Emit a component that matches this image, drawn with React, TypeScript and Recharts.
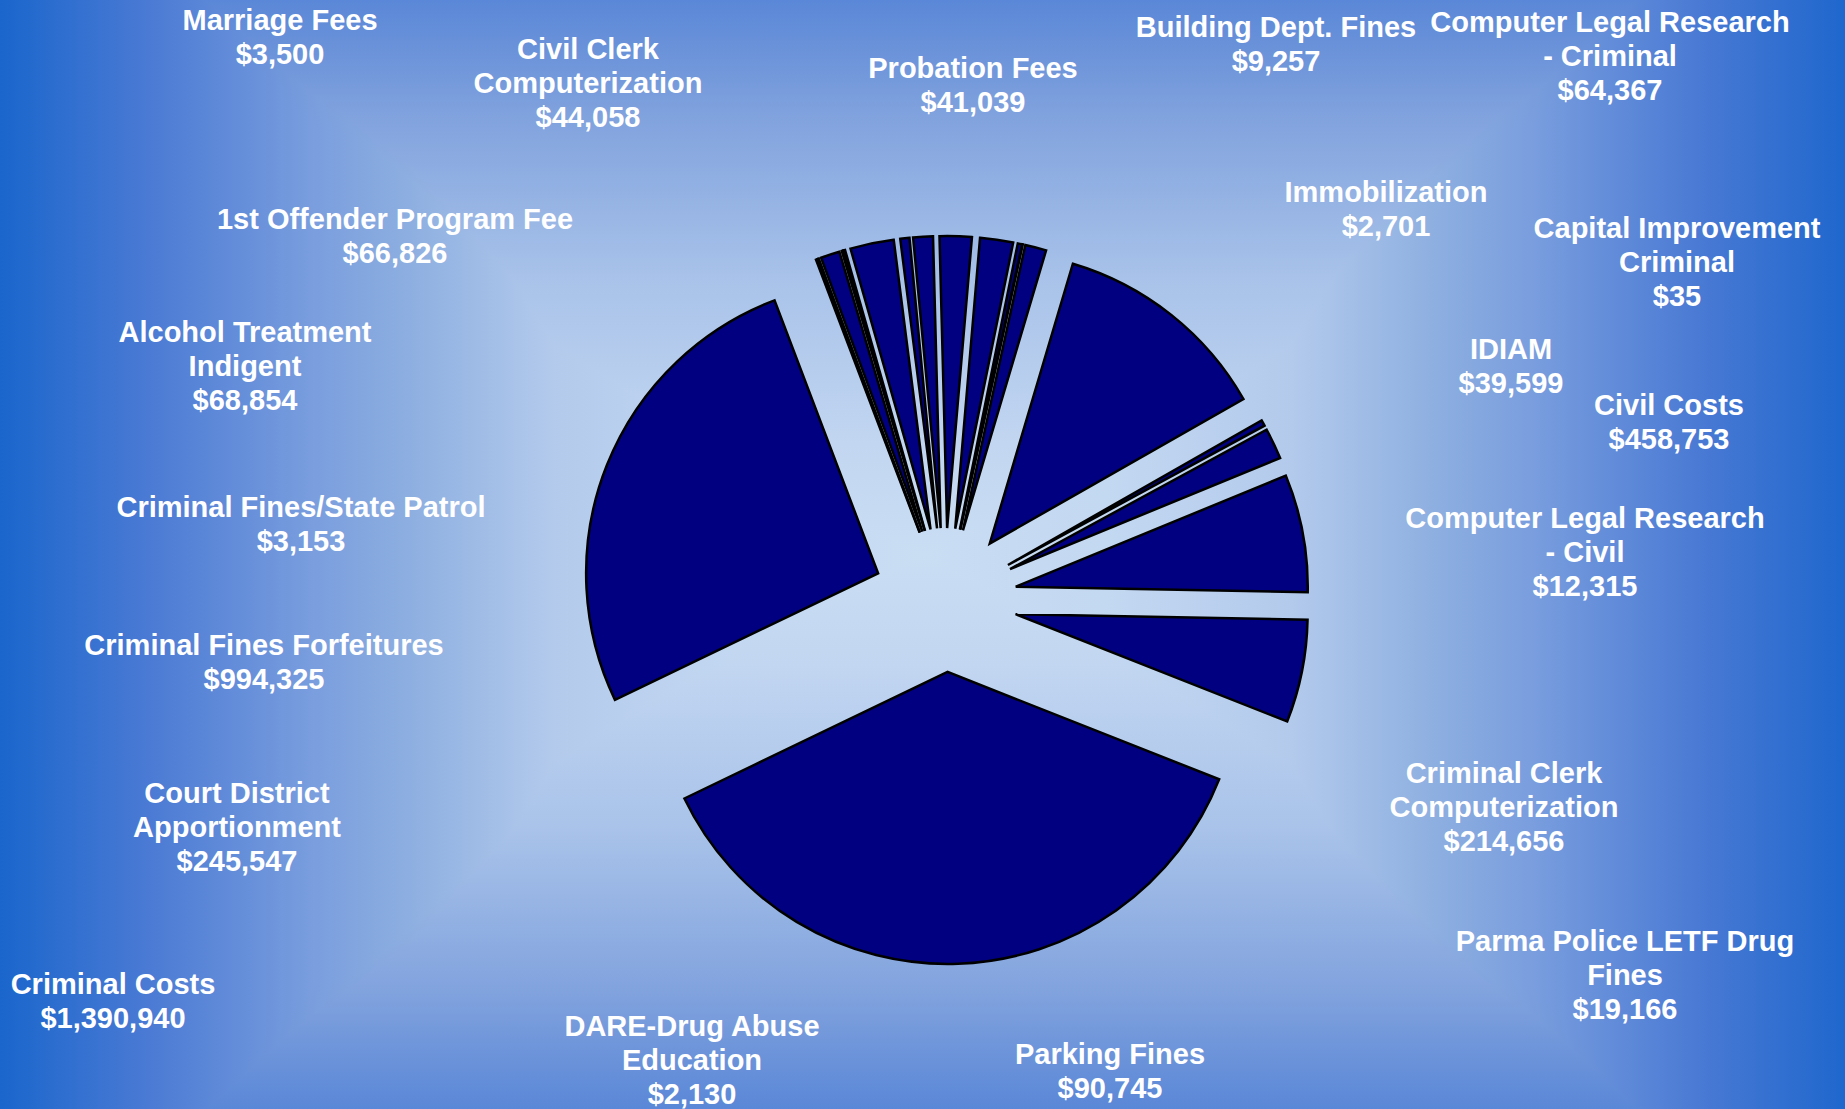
import { PieChart, Pie, Sector } from "recharts";

// slice order as in the source sheet (alphabetical), Excel starts at 12 o'clock going clockwise
const categories = [
  "1st Offender Program Fee",
  "Alcohol Treatment\nIndigent",
  "Building Dept. Fines",
  "Capital Improvement\nCriminal",
  "Civil Clerk\nComputerization",
  "Civil Costs",
  "Computer Legal Research\n- Civil",
  "Computer Legal Research\n- Criminal",
  "Court District\nApportionment",
  "Criminal Clerk\nComputerization",
  "Criminal Costs",
  "Criminal Fines Forfeitures",
  "Criminal Fines/State Patrol",
  "DARE-Drug Abuse\nEducation",
  "IDIAM",
  "Immobilization",
  "Marriage Fees",
  "Parking Fines",
  "Parma Police LETF Drug\nFines",
  "Probation Fees",
];

const amounts = [
  66826, 68854, 9257, 35, 44058, 458753, 12315, 64367, 245547, 214656,
  1390940, 994325, 3153, 2130, 39599, 2701, 3500, 90745, 19166, 41039,
];

const data = categories.map((name, i) => ({ name, value: amounts[i] }));

// where each label sits on the page (x centre, first baseline)
const labelSpots = [
  [395, 229], [245, 342], [1276, 37], [1677, 238], [588, 59],
  [1669, 415], [1585, 528], [1610, 32], [237, 803], [1504, 783],
  [113, 994], [264, 655], [301, 517], [692, 1036], [1511, 359],
  [1386, 202], [280, 30], [1110, 1064], [1625, 951], [973, 78],
];

const W = 1845;
const H = 1109;
const EXPLODE = 72;
const LINE = 34;
const RAD = Math.PI / 180;
const START = 91.5;

function ExplodedSlice(props: any) {
  const { cx, cy, startAngle, endAngle } = props;
  const mid = props.midAngle ?? (startAngle + endAngle) / 2;
  const dx = EXPLODE * Math.cos(-mid * RAD);
  const dy = EXPLODE * Math.sin(-mid * RAD);
  return (
    <Sector
      {...props}
      cx={cx + dx}
      cy={cy + dy}
      fill="#000080"
      stroke="#000000"
      strokeWidth={2.5}
    />
  );
}

function renderLabel(props: any) {
  const i = props.index;
  const [x, y] = labelSpots[i];
  const lines = [...categories[i].split("\n"), "$" + amounts[i].toLocaleString("en-US")];
  return (
    <text
      key={"lbl" + i}
      x={x}
      y={y}
      textAnchor="middle"
      fill="#ffffff"
      fontFamily="'Liberation Sans', Arial, sans-serif"
      fontWeight="bold"
      fontSize={29}
    >
      {lines.map((t, k) => (
        <tspan key={k} x={x} y={y + k * LINE}>
          {t}
        </tspan>
      ))}
    </text>
  );
}

// "from centre" rectangular fill: darken-blend of a horizontal and a vertical ramp
const bgH =
  "linear-gradient(to right, #1a66cc 0%, #4a7ad4 8%, #7a9ede 17%, #8caee0 22%, #b3caec 30%, #c3d8f1 40%, #c9ddf3 50%, #c3d8f1 60%, #b3caec 70%, #8caee0 78%, #7a9ede 83%, #4a7ad4 92%, #1f67cd 100%)";
const bgV =
  "linear-gradient(to bottom, #5a87d7 0%, #7fa1dd 10%, #a8c2e9 25%, #c2d6f1 40%, #c9ddf3 50%, #c2d6f1 60%, #a8c2e9 75%, #7fa1dd 90%, #5a87d7 100%)";

export default function App() {
  return (
    <div
      style={{
        position: "absolute",
        left: 0,
        top: 0,
        width: W,
        height: H,
        backgroundImage: `${bgH}, ${bgV}`,
        backgroundBlendMode: "darken",
      }}
    >
      <PieChart width={W} height={H}>
        <Pie
          data={data}
          dataKey="value"
          nameKey="name"
          cx={940}
          cy={595}
          innerRadius={0}
          outerRadius={292}
          startAngle={START}
          endAngle={START - 360}
          fill="#000080"
          stroke="#000000"
          strokeWidth={2.5}
          shape={ExplodedSlice}
          label={renderLabel}
          labelLine={false}
          isAnimationActive={false}
        />
      </PieChart>
    </div>
  );
}
